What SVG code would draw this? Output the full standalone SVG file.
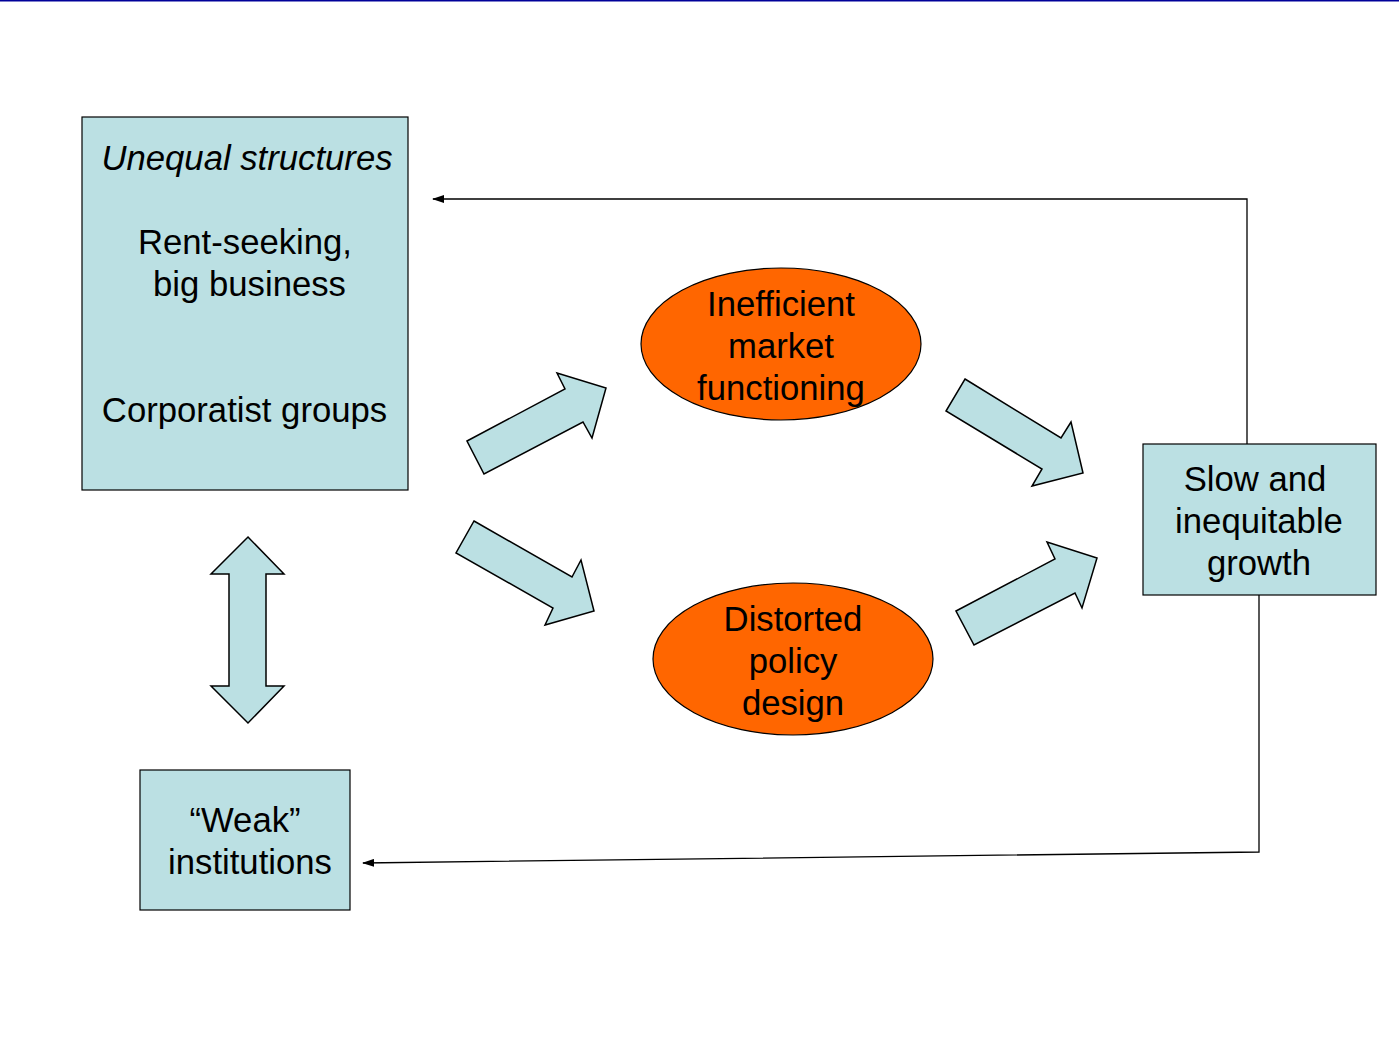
<svg xmlns="http://www.w3.org/2000/svg" width="1399" height="1048" viewBox="0 0 1399 1048">
<defs>
<style>
.box{fill:#BBE0E3;stroke:#000;stroke-width:1.2}
.ell{fill:#FF6600;stroke:#000;stroke-width:1.2}
.blk{fill:#BBE0E3;stroke:#000;stroke-width:1.5;stroke-linejoin:miter}
.t{font-family:"Liberation Sans",Arial,sans-serif;font-size:34.7px;fill:#000;text-anchor:middle}
.conn{fill:none;stroke:#000;stroke-width:1.3}
</style>
<marker id="ah" markerWidth="12" markerHeight="8" refX="11" refY="4" orient="auto" markerUnits="userSpaceOnUse">
<path d="M0,0 L12,4 L0,8 z" fill="#000"/>
</marker>
</defs>
<rect width="1399" height="1048" fill="#fff"/>
<line x1="0" y1="0.75" x2="1399" y2="0.75" stroke="#000099" stroke-width="1.5"/>
<g id="connectors">
<polyline class="conn" points="1247,444 1247,199 433,199" marker-end="url(#ah)"/>
<polyline class="conn" points="1259,595 1259,852 363,863" marker-end="url(#ah)"/>
<polygon class="blk" points="467,441 565,389 557,373 606,388 592,438 583,422 484,474"/>
<polygon class="blk" points="474,521 572,577 581,560 594,611 545,625 553,608 456,553"/>
<polygon class="blk" points="965,379 1061,438 1071,422 1083,473 1032,486 1042,469 946,411"/>
<polygon class="blk" points="956,611 1055,559 1047,542 1097,558 1082,608 1075,593 974,645"/>
<polygon class="blk" points="248,537 284,574 266,574 266,686 284,686 248,723 211,686 229,686 229,574 211,574"/>
</g>
<g id="unequal">
<rect class="box" x="82" y="117" width="326" height="373"/>
<text class="t" x="247" y="170" font-style="italic">Unequal structures</text>
<text class="t" x="245" y="254">Rent-seeking,</text>
<text class="t" x="249.5" y="296">big business</text>
<text class="t" x="244.5" y="422">Corporatist groups</text>
</g>
<g id="weak">
<rect class="box" x="140" y="770" width="210" height="140"/>
<text class="t" x="245" y="832">“Weak”</text>
<text class="t" x="250" y="874">institutions</text>
</g>
<g id="slow">
<rect class="box" x="1143" y="444" width="233" height="151"/>
<text class="t" x="1255" y="491">Slow and</text>
<text class="t" x="1259" y="533">inequitable</text>
<text class="t" x="1259" y="575">growth</text>
</g>
<g id="inefficient">
<ellipse class="ell" cx="781" cy="344" rx="140" ry="76"/>
<text class="t" x="781" y="316">Inefficient</text>
<text class="t" x="781" y="358">market</text>
<text class="t" x="781" y="400">functioning</text>
</g>
<g id="distorted">
<ellipse class="ell" cx="793" cy="659" rx="140" ry="76"/>
<text class="t" x="793" y="631">Distorted</text>
<text class="t" x="793" y="673">policy</text>
<text class="t" x="793" y="715">design</text>
</g>
</svg>
